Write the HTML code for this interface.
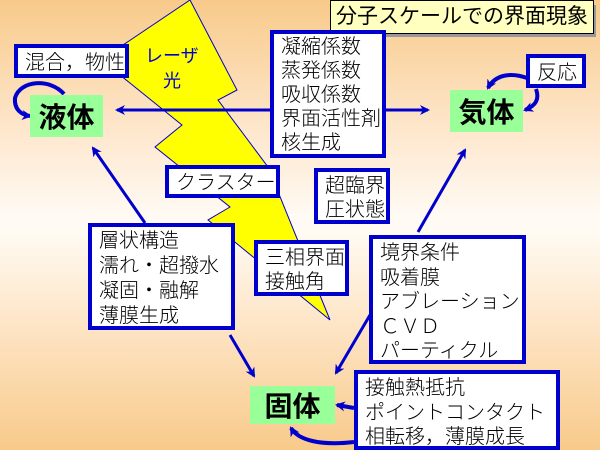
<!DOCTYPE html>
<html><head><meta charset="utf-8"><style>
body{margin:0;width:600px;height:450px;overflow:hidden;position:relative;
background:linear-gradient(to bottom,#f8ca8a 0%,#fde3c4 25%,#fffaf4 48%,#fffaf2 52%,#fde2c0 75%,#f8ca8a 100%);
font-family:"Liberation Sans","Noto Sans CJK JP",sans-serif;}
.b{position:absolute;background:#fff;border:4px solid #0000cc;box-sizing:border-box;font-size:20px;line-height:25px;color:#000;padding:2px 0 0 7px;white-space:nowrap;font-weight:300}
.g{position:absolute;background:#99ff99;font-weight:bold;font-size:28px;display:flex;align-items:center;justify-content:center}
svg{position:absolute;left:0;top:0}
</style></head><body>
<svg width="600" height="450">
<polygon points="190,0 237,90 218,100 268,167 330,320 208,220 230,207 155,147 182,125 120,75 120,47" fill="#ffff00" stroke="#0000cc" stroke-width="1"/>
<text x="145" y="62" font-size="18" fill="#0000cc" font-family="Liberation Sans,Noto Sans CJK JP,sans-serif">レーザ</text>
<text x="163" y="87" font-size="18" fill="#0000cc" font-family="Liberation Sans,Noto Sans CJK JP,sans-serif">光</text>
<defs><marker id="a" markerWidth="10" markerHeight="10" refX="8" refY="5" orient="auto" markerUnits="userSpaceOnUse"><path d="M0,0 L10,5 L0,10 L3,5z" fill="#0000cc"/></marker></defs>
<g stroke="#0000cc" stroke-width="3" fill="none" marker-end="url(#a)">
<line x1="270" y1="110" x2="117" y2="110"/>
<line x1="386" y1="110" x2="428" y2="110"/>
<line x1="145" y1="223" x2="93" y2="148"/>
<line x1="230" y1="335" x2="254" y2="376"/>
<line x1="370" y1="315" x2="336" y2="373"/>
<line x1="418" y1="232" x2="465" y2="150"/>
<path d="M64,94 C50,78 20,80 15,98 C14,110 22,115 30,116" stroke-width="4"/>
<path d="M527,78 C510,72 495,75 488,88" stroke-width="4"/>
<path d="M536,89 C540,100 535,106 525,110" stroke-width="4"/>
<line x1="354" y1="408" x2="337" y2="405" stroke-width="4"/>
<path d="M354,442 C320,446 298,440 291,428" stroke-width="4"/>
</g>
</svg>
<div style="position:absolute;left:334px;top:5px;width:262px;height:32px;background:#999"></div>
<div style="position:absolute;left:330px;top:0;width:264px;height:34px;background:#ffffc0;border:1px solid #000;box-sizing:border-box;font-size:21px;text-align:center;line-height:32px">分子スケールでの界面現象</div>
<div class="b" style="left:14px;top:44px;width:115px;height:34px;line-height:26px">混合，物性</div>
<div class="g" style="left:30px;top:95px;width:73px;height:42px">液体</div>
<div class="b" style="left:270px;top:30px;width:116px;height:128px;line-height:24px;padding-top:1px">凝縮係数<br>蒸発係数<br>吸収係数<br>界面活性剤<br>核生成</div>
<div class="g" style="left:450px;top:90px;width:73px;height:42px">気体</div>
<div class="b" style="left:526px;top:54px;width:60px;height:34px;line-height:26px">反応</div>
<div class="b" style="left:165px;top:165px;width:115px;height:33px;line-height:25px">クラスター</div>
<div class="b" style="left:314px;top:168px;width:76px;height:56px;line-height:24px">超臨界<br>圧状態</div>
<div class="b" style="left:88px;top:223px;width:147px;height:107px;line-height:25px">層状構造<br>濡れ・超撥水<br>凝固・融解<br>薄膜生成</div>
<div class="b" style="left:254px;top:240px;width:95px;height:56px;line-height:24px">三相界面<br>接触角</div>
<div class="b" style="left:369px;top:235px;width:157px;height:129px;line-height:24.5px">境界条件<br>吸着膜<br>アブレーション<br>ＣＶＤ<br>パーティクル</div>
<div class="g" style="left:250px;top:386px;width:85px;height:38px">固体</div>
<div class="b" style="left:354px;top:370px;width:206px;height:80px;line-height:24.5px">接触熱抵抗<br>ポイントコンタクト<br>相転移，薄膜成長</div>
</body></html>
